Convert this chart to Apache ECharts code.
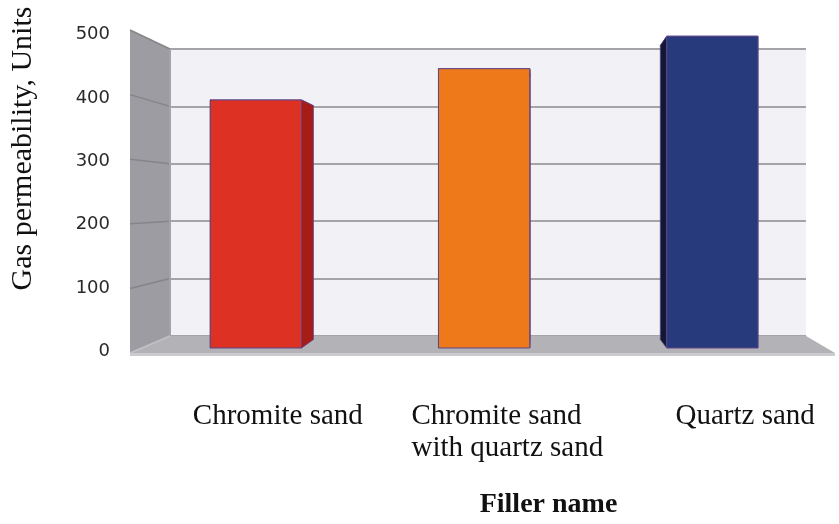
<!DOCTYPE html>
<html>
<head>
<meta charset="utf-8">
<script src="https://cdn.jsdelivr.net/npm/echarts@6/dist/echarts.min.js"></script>
<style>
  html, body { margin: 0; padding: 0; background: #ffffff; }
  #chart { width: 839px; height: 524px; }
</style>
</head>
<body>
<div id="chart"></div>
<script>
// Gas permeability by filler type
const categories = ['Chromite sand', 'Chromite sand\nwith quartz sand', 'Quartz sand'];
const permeability = [397, 447, 499];
const barColors = ['#dd3123', '#ee791b', '#263a7c'];
const sideColors = ['#a61d18', '#b65910', '#121834'];
const yMin = 0;
const yMax = 500;
const yStep = 100;
const yTicks = [0, 100, 200, 300, 400, 500];

// Back wall and front plane of the pseudo-3D box (pixel rectangles)
const BACK = { left: 170, top: 49, right: 806, bottom: 336 };
const FRONT = { left: 130, top: 30, right: 835, bottom: 353 };

// Vanishing point that maps the front plane onto the back wall
const sx = (BACK.right - BACK.left) / (FRONT.right - FRONT.left);
const sy = (BACK.bottom - BACK.top) / (FRONT.bottom - FRONT.top);
const vx = (BACK.left - sx * FRONT.left) / (1 - sx);
const vy = (BACK.top - sy * FRONT.top) / (1 - sy);
const ax = 1 / sx - 1;
const ay = 1 / sy - 1;

// depth: 0 = back wall, 1 = front edge of the floor
function proj(p, d) {
  return [vx + (p[0] - vx) * (1 + d * ax), vy + (p[1] - vy) * (1 + d * ay)];
}

const BAR_FRONT = 0.705;
const BAR_BACK = 0.21;
const BAR_RATIO = 0.4;

function renderRoom(params, api) {
  const cs = params.coordSys;
  const left = cs.x;
  const right = cs.x + cs.width;
  const y0 = api.coord([0, yMin])[1];
  const yTop = api.coord([0, yMax])[1];
  const children = [];

  const fl = proj([left, y0], 1);
  const fr = proj([right, y0], 1);
  // floor
  children.push({
    type: 'polygon',
    shape: { points: [[left, y0], [right, y0], fr, fl] },
    style: { fill: '#b3b2b7' }
  });
  children.push({
    type: 'polygon',
    shape: { points: [fl, fr, [fr[0], fr[1] + 3], [fl[0], fl[1] + 3]] },
    style: { fill: '#cacacf' }
  });
  // left wall
  children.push({
    type: 'polygon',
    shape: { points: [[left, yTop], proj([left, yTop], 1), fl, [left, y0]] },
    style: { fill: '#9d9ca2' }
  });
  // grid lines running across the left wall
  yTicks.forEach(function (v) {
    if (v === yMin) return;
    const yb = api.coord([0, v])[1];
    const f = proj([left, yb], 1);
    children.push({
      type: 'line',
      shape: { x1: left, y1: yb, x2: f[0], y2: f[1] },
      style: { stroke: '#858489', lineWidth: 1.5 }
    });
  });
  // corner where the left wall meets the back wall
  children.push({
    type: 'line',
    shape: { x1: left, y1: yTop, x2: left, y2: y0 },
    style: { stroke: '#a4a4a8', lineWidth: 2 }
  });
  children.push({
    type: 'line',
    shape: { x1: left, y1: y0, x2: fl[0], y2: fl[1] },
    style: { stroke: '#c2c2c6', lineWidth: 1.5 }
  });
  return { type: 'group', children: children };
}

function renderBar(params, api) {
  const idx = api.value(0);
  const base = api.coord([idx, yMin]);
  const top = api.coord([idx, api.value(1)]);
  const bw = api.size([1, 0])[0] * BAR_RATIO;
  const x0 = base[0] - bw / 2;
  const x1 = base[0] + bw / 2;
  const yb = base[1];
  const yt = top[1];
  const F = function (x, y) { return proj([x, y], BAR_FRONT); };
  const B = function (x, y) { return proj([x, y], BAR_BACK); };
  const side = sideColors[params.dataIndex];
  const face = barColors[params.dataIndex];
  const edge = '#5e4488';
  return {
    type: 'group',
    children: [
      { type: 'polygon', shape: { points: [F(x0, yt), F(x1, yt), B(x1, yt), B(x0, yt)] },
        style: { fill: side, stroke: edge, lineWidth: 0.8 } },
      { type: 'polygon', shape: { points: [F(x0, yt), F(x0, yb), B(x0, yb), B(x0, yt)] },
        style: { fill: side, stroke: edge, lineWidth: 0.8 } },
      { type: 'polygon', shape: { points: [F(x1, yt), F(x1, yb), B(x1, yb), B(x1, yt)] },
        style: { fill: side, stroke: edge, lineWidth: 0.8 } },
      { type: 'polygon', shape: { points: [F(x0, yt), F(x1, yt), F(x1, yb), F(x0, yb)] },
        style: { fill: face, stroke: edge, lineWidth: 1 } }
    ]
  };
}

const chart = echarts.init(document.getElementById('chart'), null, { renderer: 'canvas' });

chart.setOption({
  animation: false,
  backgroundColor: '#ffffff',
  grid: [
    {
      left: BACK.left, top: BACK.top,
      width: BACK.right - BACK.left, height: BACK.bottom - BACK.top,
      show: true, backgroundColor: '#f2f1f6', borderWidth: 0
    },
    {
      left: FRONT.left, top: FRONT.top,
      width: FRONT.right - FRONT.left, height: FRONT.bottom - FRONT.top,
      show: false
    }
  ],
  xAxis: [
    {
      type: 'category', gridIndex: 0, data: categories,
      axisLine: { show: false }, axisTick: { show: false }, axisLabel: { show: false },
      splitLine: { show: false }
    },
    {
      type: 'category', gridIndex: 1, data: categories,
      axisLine: { show: false }, axisTick: { show: false }, splitLine: { show: false },
      axisLabel: {
        interval: 0,
        hideOverlap: false,
        margin: 53,
        padding: [0, 0, 0, 54],
        fontFamily: 'Liberation Serif',
        fontSize: 29,
        lineHeight: 32,
        color: '#111111',
        formatter: function (v) {
          return v.indexOf('\n') >= 0 ? '{m|' + v + '}' : v;
        },
        rich: {
          m: { width: 200, align: 'left', fontFamily: 'Liberation Serif', fontSize: 29, lineHeight: 32, color: '#111111' }
        }
      },
      name: 'Filler name',
      nameLocation: 'middle',
      nameGap: 144,
      nameTextStyle: {
        fontFamily: 'Liberation Serif', fontSize: 28, fontWeight: 'bold', color: '#111111',
        padding: [0, 0, 0, 128]
      }
    }
  ],
  yAxis: [
    {
      type: 'value', gridIndex: 0, min: yMin, max: yMax, interval: yStep,
      axisLine: { show: false }, axisTick: { show: false }, axisLabel: { show: false },
      splitLine: { show: true, lineStyle: { color: '#a5a5a9', width: 2 } }
    },
    {
      type: 'value', gridIndex: 1, min: yMin, max: yMax, interval: yStep,
      axisLine: { show: false }, axisTick: { show: false }, splitLine: { show: false },
      axisLabel: {
        margin: 24, fontFamily: 'DejaVu Sans', fontSize: 18, color: '#2a2a2a',
        verticalAlign: 'top', lineHeight: 9
      },
      name: 'Gas permeability, Units',
      nameLocation: 'middle',
      nameRotate: 90,
      nameGap: 96,
      nameTextStyle: {
        fontFamily: 'Liberation Serif', fontSize: 30, color: '#111111',
        padding: [0, 0, 0, 80]
      }
    }
  ],
  series: [
    {
      type: 'custom', name: 'room', xAxisIndex: 0, yAxisIndex: 0,
      data: [[0, 0]], renderItem: renderRoom, clip: false, z: 1, silent: true
    },
    {
      type: 'custom', name: 'Gas permeability', xAxisIndex: 0, yAxisIndex: 0,
      data: permeability.map(function (v, i) { return [i, v]; }),
      renderItem: renderBar, clip: false, z: 2
    }
  ]
});
</script>
</body>
</html>
